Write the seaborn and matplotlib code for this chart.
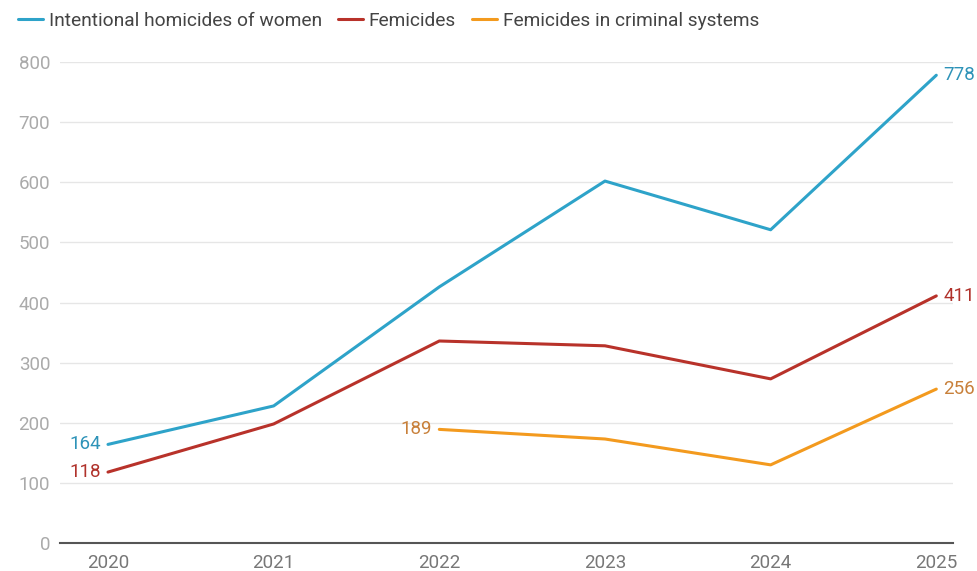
import matplotlib
matplotlib.use("Agg")
import matplotlib.pyplot as plt
import seaborn as sns
import pandas as pd
import numpy as np

years = [2020, 2021, 2022, 2023, 2024, 2025]
homicides = [164, 228, 426, 602, 521, 778]
femicides = [118, 198, 336, 328, 273, 411]
criminal = [np.nan, np.nan, 189, 173, 130, 256]
series_names = ["Intentional homicides of women", "Femicides", "Femicides in criminal systems"]
colors = ["#2ea3c9", "#b8322a", "#f39a1e"]
label_colors = ["#2e93b8", "#b0322b", "#c8803a"]
yticks = [0, 100, 200, 300, 400, 500, 600, 700, 800]

sns.set_theme(style="white")
plt.rcParams["font.family"] = ["Roboto", "DejaVu Sans"]

df = pd.DataFrame({
    "year": years * 3,
    "value": homicides + femicides + criminal,
    "series": [series_names[0]] * 6 + [series_names[1]] * 6 + [series_names[2]] * 6,
})

fig = plt.figure(figsize=(9.78, 5.71), dpi=100)
ax = fig.add_axes([0.0613, 0.049, 0.913, 0.8424])

sns.lineplot(data=df.dropna(), x="year", y="value", hue="series", hue_order=series_names,
             palette=colors, linewidth=2.2, ax=ax, legend=True)

ax.set_xlim(2019.71, 2025.1)
ax.set_ylim(0, 800)
ax.set_yticks(yticks)
ax.set_xticks(years)
ax.set_xlabel("")
ax.set_ylabel("")
ax.grid(axis="y", color="#e6e6e6", linewidth=1)
ax.grid(axis="x", visible=False)
for s in ["top", "right", "left"]:
    ax.spines[s].set_visible(False)
ax.spines["bottom"].set_color("#555555")
ax.spines["bottom"].set_linewidth(1.5)
ax.tick_params(axis="y", length=0, pad=7, labelsize=13.5, labelcolor="#aaaaaa")
ax.tick_params(axis="x", length=0, pad=8, labelsize=13.5, labelcolor="#777777")

# data labels
series_vals = [homicides, femicides, criminal]
for vals, lc in zip(series_vals, label_colors):
    idx = [i for i, v in enumerate(vals) if not np.isnan(v)]
    first, last = idx[0], idx[-1]
    ax.annotate(f"{int(vals[first])}", (years[first], vals[first]), xytext=(-5, 0),
                textcoords="offset points", ha="right", va="center", color=lc, fontsize=13.5)
    ax.annotate(f"{int(vals[last])}", (years[last], vals[last]), xytext=(5, 0),
                textcoords="offset points", ha="left", va="center", color=lc, fontsize=13.5)

handles, labels = ax.get_legend_handles_labels()
ax.get_legend().remove()
fig.legend(handles, labels, loc="center left", bbox_to_anchor=(18 / 978, 1 - 21 / 571),
           bbox_transform=fig.transFigure, ncol=3, frameon=False, fontsize=13.8,
           handlelength=1.3, handletextpad=0.31, columnspacing=0.83,
           labelcolor="#444444", borderpad=0, borderaxespad=0)

fig.savefig("out.png", dpi=100, facecolor="white")
